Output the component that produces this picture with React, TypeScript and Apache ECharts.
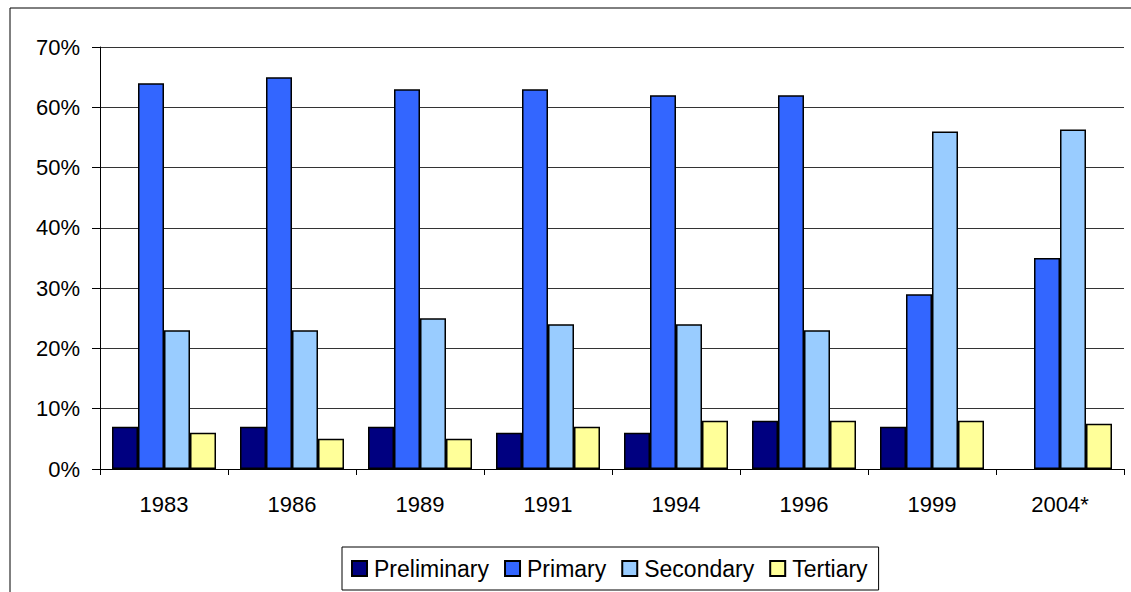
import React, { useEffect, useRef } from "react";
import * as echarts from "echarts";

const categories = ["1983", "1986", "1989", "1991", "1994", "1996", "1999", "2004*"];
const preliminary = [7, 7, 7, 6, 6, 8, 7, null];
const primary = [64, 65, 63, 63, 62, 62, 29, 35];
const secondary = [23, 23, 25, 24, 24, 23, 56, 56.3];
const tertiary = [6, 5, 5, 7, 8, 8, 8, 7.5];
const seriesNames = ["Preliminary", "Primary", "Secondary", "Tertiary"];
const seriesColors = ["#000080", "#3366FF", "#99CCFF", "#FFFF99"];

const FONT = "'Liberation Sans', Arial, sans-serif";

export default function App() {
  const ref = useRef<HTMLDivElement>(null);
  useEffect(() => {
    if (!ref.current) return;
    const chart = echarts.init(ref.current, null, { renderer: "svg" });
    const data = [preliminary, primary, secondary, tertiary];
    chart.setOption({
      animation: false,
      backgroundColor: "#ffffff",
      textStyle: { fontFamily: FONT },
      graphic: [
        {
          type: "rect",
          shape: { x: 10, y: 8, width: 1200, height: 700 },
          style: { fill: "none", stroke: "#000", lineWidth: 1 },
          silent: true,
          z: -1,
        },
      ],
      grid: { left: 100, top: 47, right: 7, bottom: 123, containLabel: false },
      legend: {
        left: 342,
        top: 547,
        padding: [10, 11, 10, 9],
        borderColor: "#000",
        borderWidth: 1,
        icon: "rect",
        itemWidth: 15,
        itemHeight: 15,
        itemGap: 15,
        textStyle: { fontSize: 23, color: "#000", fontFamily: FONT, padding: [0, 0, 0, 2] },
        data: seriesNames,
      },
      xAxis: {
        type: "category",
        data: categories,
        boundaryGap: true,
        axisLine: { lineStyle: { color: "#000", width: 1 } },
        axisTick: { show: true, alignWithLabel: false, length: 6, lineStyle: { color: "#000" } },
        axisLabel: { fontSize: 22, color: "#000", margin: 24, fontFamily: FONT },
        splitLine: { show: false },
      },
      yAxis: {
        type: "value",
        min: 0,
        max: 70,
        interval: 10,
        axisLine: { show: true, lineStyle: { color: "#000", width: 1 } },
        axisTick: { show: true, length: 8, lineStyle: { color: "#000" } },
        axisLabel: { fontSize: 22, color: "#000", margin: 20, formatter: "{value}%", fontFamily: FONT },
        splitLine: { show: true, lineStyle: { color: "#333", width: 1 } },
      },
      series: seriesNames.map((name, i) => ({
        name,
        type: "bar",
        data: data[i],
        barWidth: 26,
        barGap: "0%",
        itemStyle: { color: seriesColors[i], borderColor: "#000", borderWidth: 1.5 },
      })),
    });
    return () => chart.dispose();
  }, []);
  return (
    <div
      ref={ref}
      style={{ position: "absolute", left: 0, top: 0, width: 1131, height: 592 }}
    />
  );
}
